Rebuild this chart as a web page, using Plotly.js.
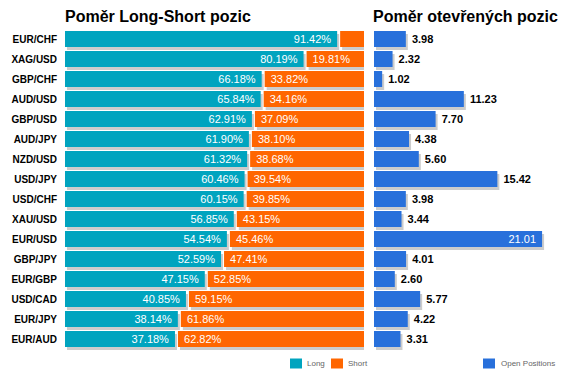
<!DOCTYPE html>
<html>
<head>
<meta charset="utf-8">
<script src="https://cdn.plot.ly/plotly-3.0.1.min.js"></script>
<style>html,body{margin:0;padding:0;background:#fff;}#chart{width:571px;height:380px;}</style>
</head>
<body>
<div id="chart"></div>
<script>
var pairs = ['EUR/CHF','XAG/USD','GBP/CHF','AUD/USD','GBP/USD','AUD/JPY','NZD/USD','USD/JPY','USD/CHF','XAU/USD','EUR/USD','GBP/JPY','EUR/GBP','USD/CAD','EUR/JPY','EUR/AUD'];
var longPct = [91.42,80.19,66.18,65.84,62.91,61.90,61.32,60.46,60.15,56.85,54.54,52.59,47.15,40.85,38.14,37.18];
var shortPct = [8.58,19.81,33.82,34.16,37.09,38.10,38.68,39.54,39.85,43.15,45.46,47.41,52.85,59.15,61.86,62.82];
var openPos = [3.98,2.32,1.02,11.23,7.70,4.38,5.60,15.42,3.98,3.44,21.01,4.01,2.60,5.77,4.22,3.31];

var FONT = 'Arial, "Liberation Sans", sans-serif';
var CYAN = '#00A4BF', ORANGE = '#FF6600', BLUE = '#2870DB', SHADOW = '#CCCCCC';
var W = 571, H = 380;
var gapL = 0.4, gapR = 0.6;      // small visual gap between long and short segments (axis units)
var shLeft = 0.67, shRight = 0.25; // 2px shadow shift in each chart's units
var bw = 0.8, off = -0.4, shOff = -0.25;
var minLabelPct = 12;              // segments narrower than this get no label (label would not fit)
var NB = '\u00A0';

function arr(n, v){ var a=[]; for(var i=0;i<n;i++) a.push(v); return a; }
var n = pairs.length;

var traces = [
  // shadows
  {type:'bar', orientation:'h', y:pairs, x:longPct.map(function(v){return v-gapL;}), base:arr(n,shLeft),
   width:bw, offset:shOff, marker:{color:SHADOW}, hoverinfo:'skip', xaxis:'x', yaxis:'y'},
  {type:'bar', orientation:'h', y:pairs, x:shortPct.map(function(v){return v-gapR;}), base:longPct.map(function(v){return v+gapR+shLeft;}),
   width:bw, offset:shOff, marker:{color:SHADOW}, hoverinfo:'skip', xaxis:'x', yaxis:'y'},
  {type:'bar', orientation:'h', y:pairs, x:openPos, base:arr(n,shRight),
   width:bw, offset:shOff, marker:{color:SHADOW}, hoverinfo:'skip', xaxis:'x2', yaxis:'y'},
  // main bars
  {type:'bar', orientation:'h', name:'Long', y:pairs, x:longPct.map(function(v){return v-gapL;}), base:arr(n,0),
   width:bw, offset:off, marker:{color:CYAN},
   text:longPct.map(function(v){return v<minLabelPct?'':v.toFixed(2)+'%'+NB;}), texttemplate:'%{text}',
   textposition:'inside', insidetextanchor:'end', constraintext:'none',
   insidetextfont:{family:FONT, size:11, color:'#ffffff'}, hoverinfo:'skip', xaxis:'x', yaxis:'y'},
  {type:'bar', orientation:'h', name:'Short', y:pairs, x:shortPct.map(function(v){return v-gapR;}), base:longPct.map(function(v){return v+gapR;}),
   width:bw, offset:off, marker:{color:ORANGE},
   text:shortPct.map(function(v){return v<minLabelPct?'':NB+v.toFixed(2)+'%';}), texttemplate:'%{text}',
   textposition:'inside', insidetextanchor:'start', constraintext:'none',
   insidetextfont:{family:FONT, size:11, color:'#ffffff'}, hoverinfo:'skip', xaxis:'x', yaxis:'y'},
  {type:'bar', orientation:'h', name:'Open Positions', y:pairs, x:openPos, base:arr(n,0),
   width:bw, offset:off, marker:{color:BLUE},
   text:openPos.map(function(v){return NB+v.toFixed(2)+NB;}), texttemplate:'%{text}',
   textposition:openPos.map(function(v){return v>18?'inside':'outside';}), insidetextanchor:'end',
   constraintext:'none', cliponaxis:false,
   insidetextfont:{family:FONT, size:11, color:'#ffffff'},
   outsidetextfont:{family:FONT, size:11, color:'#000000', weight:'bold'},
   hoverinfo:'skip', xaxis:'x2', yaxis:'y'}
];

function px(x){return x/W;}
function py(y){return 1-y/H;}

var layout = {
  width:W, height:H,
  margin:{l:0,r:0,t:0,b:0},
  paper_bgcolor:'#ffffff', plot_bgcolor:'rgba(0,0,0,0)',
  showlegend:false,
  barmode:'overlay',
  font:{family:FONT},
  xaxis:{domain:[px(65),px(364)], range:[0,100], showgrid:false, zeroline:false, showticklabels:false, ticks:'', fixedrange:true},
  xaxis2:{domain:[px(374),px(568)], range:[0,24.25], anchor:'y', showgrid:false, zeroline:false, showticklabels:false, ticks:'', fixedrange:true},
  yaxis:{type:'category', autorange:'reversed', domain:[py(350),py(29)], anchor:'x',
         showgrid:false, zeroline:false, showline:false, ticks:'', ticklabelstandoff:7,
         tickfont:{family:FONT, size:10, color:'#000000', weight:'bold'}, fixedrange:true},
  annotations:[
    {text:'Poměr Long-Short pozic', xref:'paper', yref:'paper', x:px(63), y:py(16), xanchor:'left', yanchor:'middle', showarrow:false,
     font:{family:FONT, size:16, color:'#000000', weight:'bold'}},
    {text:'Poměr otevřených pozic', xref:'paper', yref:'paper', x:px(371), y:py(16), xanchor:'left', yanchor:'middle', showarrow:false,
     font:{family:FONT, size:16, color:'#000000', weight:'bold'}},
    {text:'Long', xref:'paper', yref:'paper', x:px(305), y:py(363.5), xanchor:'left', yanchor:'middle', showarrow:false,
     font:{family:FONT, size:8, color:'#666666'}},
    {text:'Short', xref:'paper', yref:'paper', x:px(346), y:py(363.5), xanchor:'left', yanchor:'middle', showarrow:false,
     font:{family:FONT, size:8, color:'#666666'}},
    {text:'Open Positions', xref:'paper', yref:'paper', x:px(499), y:py(363.5), xanchor:'left', yanchor:'middle', showarrow:false,
     font:{family:FONT, size:8, color:'#666666'}}
  ],
  shapes:[
    {type:'rect', xref:'paper', yref:'paper', x0:px(290), x1:px(302), y0:py(368.5), y1:py(358.5), line:{width:0}, fillcolor:CYAN},
    {type:'rect', xref:'paper', yref:'paper', x0:px(331), x1:px(343), y0:py(368.5), y1:py(358.5), line:{width:0}, fillcolor:ORANGE},
    {type:'rect', xref:'paper', yref:'paper', x0:px(483), x1:px(495), y0:py(368.5), y1:py(358.5), line:{width:0}, fillcolor:BLUE}
  ]
};

Plotly.newPlot('chart', traces, layout, {displayModeBar:false, staticPlot:true});
</script>
</body>
</html>
